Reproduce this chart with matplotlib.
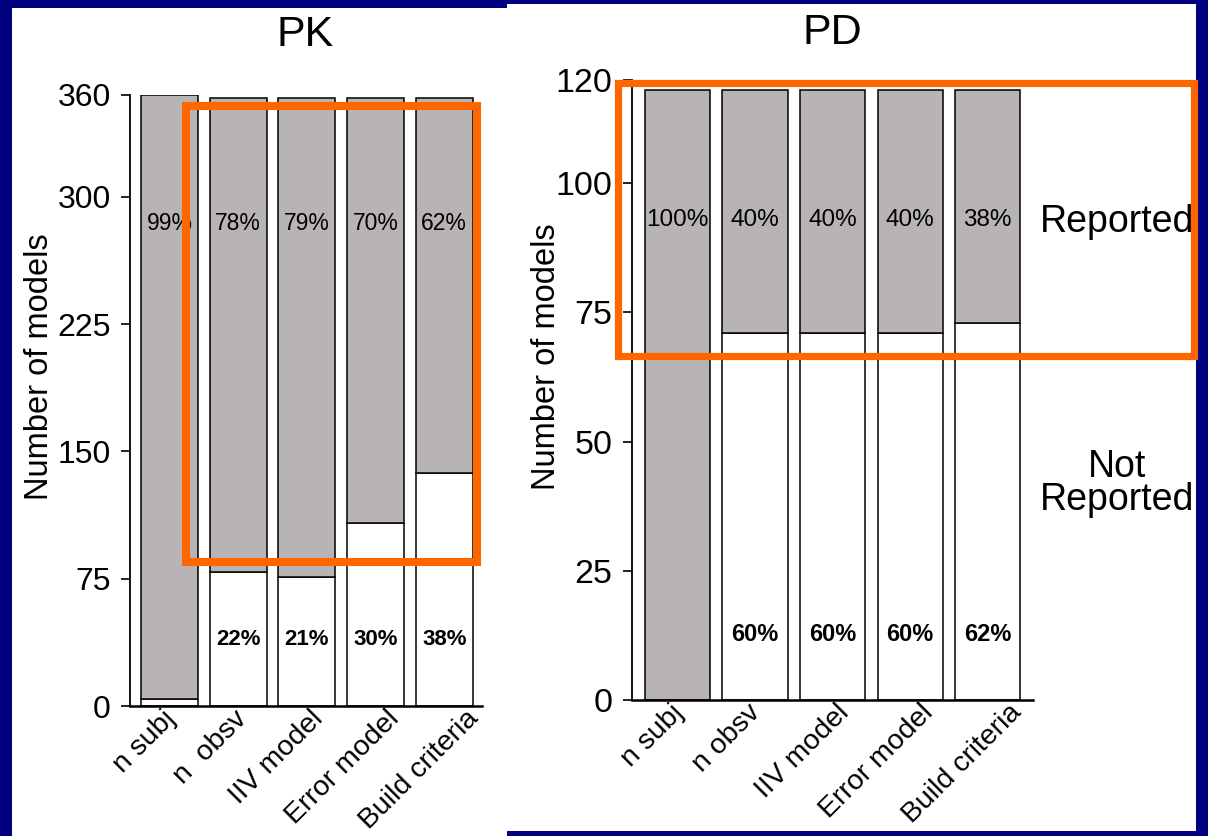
import matplotlib
matplotlib.use('Agg')
import matplotlib.pyplot as plt
from matplotlib.patches import Rectangle
from matplotlib.transforms import ScaledTranslation
import numpy as np

plt.rcParams['font.family'] = ['Liberation Sans', 'DejaVu Sans']

# PK data (number of models)
pk_categories = ['n subj', 'n  obsv', 'IIV model', 'Error model', 'Build criteria']
pk_not_reported = [4, 79, 76, 108, 137]
pk_reported = [356, 279, 282, 250, 221]
pk_pct_reported = ['99%', '78%', '79%', '70%', '62%']
pk_pct_not = ['', '22%', '21%', '30%', '38%']
pk_ticks = [0, 75, 150, 225, 300, 360]

# PD data (number of models)
pd_categories = ['n subj', 'n obsv', 'IIV model', 'Error model', 'Build criteria']
pd_not_reported = [0, 71, 71, 71, 73]
pd_reported = [118, 47, 47, 47, 45]
pd_pct_reported = ['100%', '40%', '40%', '40%', '38%']
pd_pct_not = ['', '60%', '60%', '60%', '62%']
pd_ticks = [0, 25, 50, 75, 100, 120]

navy = '#000080'
grey = '#b8b4b5'
orange = '#ff6600'

fig = plt.figure(figsize=(12.08, 8.36), dpi=100, facecolor=navy)

# white slide panels
fig.patches.append(Rectangle((0.0099, 0.0), 0.41, 0.9904, transform=fig.transFigure,
                             facecolor='white', edgecolor='none', zorder=-10))
fig.patches.append(Rectangle((0.4197, 0.006), 0.5704, 0.9892, transform=fig.transFigure,
                             facecolor='white', edgecolor='none', zorder=-10))


def draw_panel(ax, cats, not_rep, rep, pct_rep, pct_not, ticks, ymax, width,
               y_top_lbl, y_bot_lbl, pct_size, tick_size):
    x = np.arange(len(cats))
    ax.bar(x, not_rep, width, color='white', edgecolor='black', linewidth=1.1)
    ax.bar(x, rep, width, bottom=not_rep, color=grey, edgecolor='black', linewidth=1.1)
    for i in x:
        ax.text(i, y_top_lbl, pct_rep[i], ha='center', va='center', fontsize=pct_size)
        if pct_not[i]:
            ax.text(i, y_bot_lbl, pct_not[i], ha='center', va='center',
                    fontsize=pct_size - 0.5, fontweight='bold')
    ax.set_ylim(0, ymax)
    ax.set_yticks(ticks)
    ax.set_yticklabels([str(t) for t in ticks], fontsize=tick_size)
    ax.tick_params(axis='x', length=0, pad=10)
    ax.tick_params(axis='y', length=6.5, width=1.2, pad=7.5)
    ax.set_xticks(x)
    ax.set_xticklabels(cats, rotation=45, ha='right', va='baseline',
                       rotation_mode='anchor', fontsize=20.5)
    # longer labels sit a bit further right, like the original slide
    for lbl in ax.get_xticklabels():
        dx = -15 + 3.6 * len(lbl.get_text())
        lbl.set_transform(lbl.get_transform() +
                          ScaledTranslation(dx / 100, 0, fig.dpi_scale_trans))
    ax.spines['top'].set_visible(False)
    ax.spines['right'].set_visible(False)
    ax.spines['left'].set_linewidth(1.3)
    ax.spines['bottom'].set_linewidth(1.8)
    ax.set_facecolor('none')
    ax.set_ylabel('Number of models', fontsize=23.5)


# PK panel
ax1 = fig.add_axes([0.1076, 0.1555, 0.2914, 0.7309])
ax1.set_xlim(-0.577, 4.55)
draw_panel(ax1, pk_categories, pk_not_reported, pk_reported, pk_pct_reported,
           pk_pct_not, pk_ticks, 360, 0.83, 284, 39, 16.5, 23)
ax1.set_xlim(-0.577, 4.55)
ax1.yaxis.set_label_coords(-0.213, 0.556)
ax1.add_patch(Rectangle((0.24, 84.8), 4.235, 268.7, fill=False, edgecolor=orange,
                        linewidth=5.8, clip_on=False, zorder=10))
fig.text(0.253, 0.958, 'PK', ha='center', va='center', fontsize=31)

# PD panel
ax2 = fig.add_axes([0.5232, 0.1627, 0.332, 0.7416])
ax2.set_xlim(-0.587, 4.587)
draw_panel(ax2, pd_categories, pd_not_reported, pd_reported, pd_pct_reported,
           pd_pct_not, pd_ticks, 120, 0.84, 93, 12.6, 17.5, 24.5)
ax2.set_xlim(-0.587, 4.587)
ax2.yaxis.set_label_coords(-0.175, 0.553)
ax2.add_patch(Rectangle((-0.768, 66.6), 7.433, 52.8, fill=False, edgecolor=orange,
                        linewidth=5.2, clip_on=False, zorder=10))
fig.text(0.689, 0.961, 'PD', ha='center', va='center', fontsize=31)

fig.text(0.9247, 0.7344, 'Reported', ha='center', va='center', fontsize=27)
fig.text(0.9247, 0.422, 'Not\nReported', ha='center', va='center', fontsize=27,
         linespacing=0.9)

fig.savefig('out.png', dpi=100, facecolor=navy)
